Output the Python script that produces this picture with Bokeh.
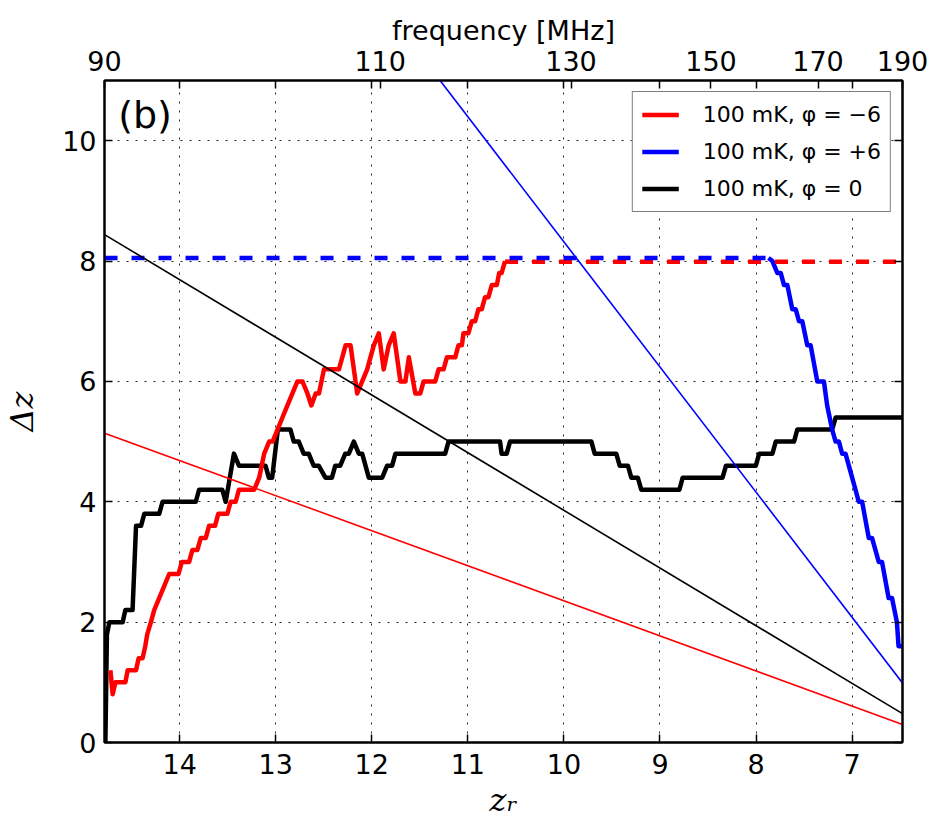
from bokeh.plotting import figure
from bokeh.models import (Range1d, LinearAxis, FixedTicker, CustomJSTickFormatter,
                          Legend, LegendItem, Label)
from bokeh.embed import file_html
from bokeh.resources import INLINE

NU21 = 1420.4  # MHz
freq_ticks = [90, 110, 130, 150, 170, 190]
z_ticks = [7, 8, 9, 10, 11, 12, 13, 14]
dz_ticks = [0, 2, 4, 6, 8, 10]

# thin reference lines
ref_z = [14.782, 6.476]
ref_red_dz = [5.14, 0.30]
ref_black_dz = [8.44, 0.48]
ref_blue_z = [11.40, 6.476]
ref_blue_dz = [11.23, 0.99]

# phi = -6 (red)
red_z = [14.721, 14.697, 14.669, 14.565, 14.541, 14.454, 14.427, 14.386, 14.358, 14.337,
         14.299, 14.265, 14.213, 14.161, 14.109, 14.012, 13.977, 13.901, 13.867, 13.815,
         13.780, 13.728, 13.694, 13.632, 13.598, 13.504, 13.469, 13.417, 13.383, 13.224,
         13.172, 13.120, 13.068, 13.033, 12.981, 12.930, 12.878, 12.826, 12.774, 12.722,
         12.670, 12.629, 12.584, 12.550, 12.498, 12.342, 12.273, 12.221, 12.152, 12.100,
         12.048, 12.014, 11.979, 11.927, 11.876, 11.824, 11.772, 11.702, 11.650, 11.614,
         11.547, 11.495, 11.461, 11.339, 11.305, 11.253, 11.218, 11.132, 11.098, 11.062,
         11.046, 10.994, 10.959, 10.924, 10.890, 10.855, 10.821, 10.786, 10.751, 10.699,
         10.674, 10.649, 10.613]
red_dz = [1.2, 0.8, 1.0, 1.0, 1.2, 1.2, 1.4, 1.4, 1.6, 1.8,
          2.0, 2.2, 2.4, 2.6, 2.8, 2.8, 3.0, 3.0, 3.2, 3.2,
          3.4, 3.4, 3.6, 3.6, 3.8, 3.8, 4.0, 4.0, 4.2, 4.2,
          4.4, 4.8, 5.0, 5.0, 5.2, 5.4, 5.6, 5.8, 6.0, 6.0,
          5.8, 5.6, 5.8, 5.8, 6.2, 6.2, 6.6, 6.6, 5.8, 6.0,
          6.2, 6.4, 6.6, 6.8, 6.2, 6.6, 6.8, 6.0, 6.0, 6.4,
          5.8, 5.8, 6.0, 6.0, 6.2, 6.2, 6.4, 6.4, 6.6, 6.6,
          6.8, 6.8, 7.0, 7.0, 7.2, 7.2, 7.4, 7.4, 7.6, 7.6,
          7.8, 7.8, 8.0]
red_cap_z = [10.613, 6.476]
red_cap_dz = [7.99, 7.99]

# phi = 0 (black)
black_z = [14.773, 14.757, 14.731, 14.593, 14.565, 14.490, 14.454, 14.402, 14.368, 14.213,
           14.178, 13.832, 13.798, 13.556, 13.521, 13.435, 13.383, 13.106, 13.072, 13.037,
           12.978, 12.847, 12.812, 12.760, 12.709, 12.657, 12.605, 12.553, 12.483, 12.415,
           12.380, 12.328, 12.276, 12.239, 12.187, 12.135, 12.100, 12.031, 11.892, 11.840,
           11.788, 11.754, 11.236, 11.201, 10.665, 10.649, 10.596, 10.561, 9.714, 9.680,
           9.455, 9.420, 9.334, 9.299, 9.231, 9.195, 8.798, 8.764, 8.349, 8.313,
           8.002, 7.968, 7.830, 7.795, 7.605, 7.571, 7.208, 7.172, 6.476]
black_dz = [0.0, 1.8, 2.0, 2.0, 2.2, 2.2, 3.6, 3.6, 3.8, 3.8,
            4.0, 4.0, 4.2, 4.2, 4.0, 4.8, 4.6, 4.6, 4.4, 4.4,
            5.2, 5.2, 5.0, 5.0, 4.8, 4.8, 4.6, 4.6, 4.4, 4.4,
            4.6, 4.6, 4.8, 4.8, 5.0, 4.8, 4.8, 4.4, 4.4, 4.6,
            4.6, 4.8, 4.8, 5.0, 5.0, 4.8, 4.8, 5.0, 5.0, 4.8,
            4.8, 4.6, 4.6, 4.4, 4.4, 4.2, 4.2, 4.4, 4.4, 4.6,
            4.6, 4.8, 4.8, 5.0, 5.0, 5.2, 5.2, 5.4, 5.4]

# phi = +6 (blue)
blue_z = [7.871, 7.830, 7.778, 7.743, 7.709, 7.674, 7.623, 7.588, 7.553, 7.519,
          7.467, 7.432, 7.363, 7.294, 7.260, 7.208, 7.172, 7.138, 7.104, 7.069,
          7.000, 6.965, 6.931, 6.896, 6.827, 6.793, 6.723, 6.689, 6.620, 6.585,
          6.534, 6.517, 6.480]
blue_dz = [8.05, 8.0, 7.8, 7.8, 7.6, 7.6, 7.2, 7.2, 7.0, 7.0,
           6.6, 6.6, 6.0, 6.0, 5.6, 5.2, 5.0, 5.0, 4.8, 4.8,
           4.4, 4.2, 4.0, 4.0, 3.4, 3.4, 3.0, 3.0, 2.4, 2.4,
           2.0, 1.6, 1.6]
blue_cap_z = [14.782, 7.871]
blue_cap_dz = [8.05, 8.05]

legend_labels = ["100 mK, \u03c6 = \u22126", "100 mK, \u03c6 = +6", "100 mK, \u03c6 = 0"]

FONT = "DejaVu Sans"
z_left = NU21 / freq_ticks[0] - 1
z_right = NU21 / freq_ticks[-1] - 1
z_freq = [NU21 / f - 1 for f in freq_ticks]

p = figure(width=937, height=824, x_range=Range1d(z_left, z_right), y_range=Range1d(0, 11),
           output_backend="svg", toolbar_location=None,
           min_border_left=103, min_border_right=35, min_border_top=80, min_border_bottom=82)
p.background_fill_color = "white"
p.border_fill_color = "white"
p.outline_line_color = "black"
p.outline_line_width = 2

LW_THICK = 4.5
LW_THIN = 1.6
r_black = p.line(black_z, black_dz, color="black", line_width=LW_THICK, line_join="round")
r_red = p.line(red_z, red_dz, color="#ff0000", line_width=LW_THICK, line_join="round")
r_blue = p.line(blue_z, blue_dz, color="#0000ff", line_width=LW_THICK, line_join="round")
p.line(red_cap_z, red_cap_dz, color="#ff0000", line_width=LW_THICK, line_dash="13 14")
p.line(blue_cap_z, blue_cap_dz, color="#0000ff", line_width=LW_THICK, line_dash="13 14")
p.line(ref_z, ref_red_dz, color="#ff0000", line_width=LW_THIN)
p.line(ref_z, ref_black_dz, color="black", line_width=LW_THIN)
p.line(ref_blue_z, ref_blue_dz, color="#0000ff", line_width=LW_THIN)

TICK_FS = "27px"

def style_axis(ax, standoff):
    ax.axis_line_color = "black"
    ax.axis_line_width = 2
    ax.major_tick_in = 8
    ax.major_tick_out = 0
    ax.major_tick_line_width = 1.5
    ax.major_tick_line_color = "black"
    ax.minor_tick_line_color = None
    ax.major_label_text_font = FONT
    ax.major_label_text_font_size = TICK_FS
    ax.major_label_text_color = "black"
    ax.major_label_standoff = standoff
    ax.axis_label_text_color = "black"

xax = p.xaxis[0]
xax.ticker = FixedTicker(ticks=z_ticks)
style_axis(xax, 11)
xax.axis_label = "z\u1d63"
xax.axis_label_text_font = "DejaVu Serif"
xax.axis_label_text_font_style = "italic"
xax.axis_label_text_font_size = "32px"
xax.axis_label_standoff = 4

yax = p.yaxis[0]
yax.ticker = FixedTicker(ticks=dz_ticks)
style_axis(yax, 8)
yax.axis_label = "\u0394z"
yax.axis_label_text_font = "DejaVu Serif"
yax.axis_label_text_font_style = "italic"
yax.axis_label_text_font_size = "32px"
yax.axis_label_standoff = 18

top = LinearAxis(ticker=FixedTicker(ticks=z_freq + z_ticks),
                 formatter=CustomJSTickFormatter(
                     args=dict(zs=z_freq, labs=[str(f) for f in freq_ticks]),
                     code="for (let i = 0; i < zs.length; i++) { if (Math.abs(tick - zs[i]) < 1e-6) return labs[i]; } return '';"),
                 axis_label="frequency [MHz]")
style_axis(top, 10)
top.axis_label_text_font = FONT
top.axis_label_text_font_style = "normal"
top.axis_label_text_font_size = TICK_FS
top.axis_label_standoff = 2
p.add_layout(top, "above")

right = LinearAxis(ticker=FixedTicker(ticks=dz_ticks),
                   formatter=CustomJSTickFormatter(code="return '';"))
style_axis(right, 0)
p.add_layout(right, "right")

for g in (p.xgrid[0], p.ygrid[0]):
    g.grid_line_color = "black"
    g.grid_line_alpha = 0.85
    g.grid_line_width = 1
    g.grid_line_dash = "2 7"
p.xgrid[0].ticker = FixedTicker(ticks=z_ticks)
p.ygrid[0].ticker = FixedTicker(ticks=dz_ticks)

legend = Legend(items=[LegendItem(label=legend_labels[0], renderers=[r_red]),
                       LegendItem(label=legend_labels[1], renderers=[r_blue]),
                       LegendItem(label=legend_labels[2], renderers=[r_black])],
                location="top_right")
legend.margin = 11
legend.padding = 9
legend.spacing = 10
legend.glyph_width = 37
legend.glyph_height = 27
legend.label_height = 27
legend.label_standoff = 24
legend.label_text_font = FONT
legend.label_text_font_size = "22px"
legend.label_text_color = "black"
legend.border_line_color = "black"
legend.border_line_width = 1.5
legend.background_fill_color = "white"
legend.background_fill_alpha = 1.0
p.add_layout(legend)

p.add_layout(Label(x=14.64, y=10.43, text="(b)", text_font=FONT, text_font_size="38px",
                   text_baseline="middle", text_align="left", text_color="black"))

open("out.html", "w").write(file_html(p, INLINE))
